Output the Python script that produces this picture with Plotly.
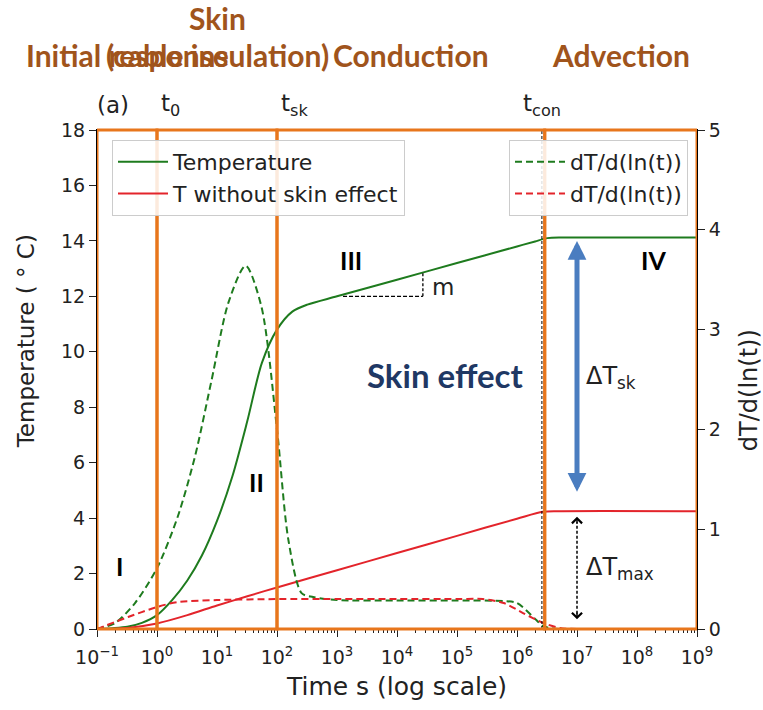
import math
import plotly.graph_objects as go

# ---- data -------------------------------------------------------------
# Temperature rise (left axis, deg C)
t_temp = [0.1, 0.18, 0.32, 0.56, 1, 1.8, 3.2, 5.6, 10, 18, 32, 56, 100, 180, 320,
          1e3, 1e4, 1e5, 1e6, 2e6, 3.2e6, 6e6, 1e9]
temp = [0.0, 0.03, 0.08, 0.22, 0.5, 1.05, 1.75, 2.65, 3.9, 5.5, 7.5, 9.6, 10.8, 11.45, 11.7,
        12.0, 12.6, 13.2, 13.8, 13.98, 14.1, 14.12, 14.12]

t_noskin = [0.1, 0.32, 1, 3.2, 10, 32, 100, 1e3, 1e4, 1e5, 1e6, 2.7e6, 5e6, 1e9]
temp_noskin = [0.0, 0.04, 0.2, 0.5, 0.85, 1.18, 1.5, 2.12, 2.74, 3.36, 3.98, 4.23, 4.25, 4.25]

# Log-derivative dT/d(ln t) (right axis)
t_dtemp = [0.1, 0.2, 0.43, 1, 2.2, 4.3, 8.1, 15.5, 30, 55, 100, 155, 257, 400,
           1e3, 1e4, 1e5, 6e5, 1e6, 2.1e6, 2.7e6, 5e6, 1e9]
dtemp = [0.0, 0.06, 0.26, 0.61, 1.12, 1.73, 2.49, 3.27, 3.64, 3.23, 2.0, 0.89, 0.36, 0.32,
         0.29, 0.285, 0.285, 0.28, 0.26, 0.09, 0.03, 0.0, 0.0]

t_dnoskin = [0.1, 0.33, 1, 2.2, 10, 100, 1e3, 1e4, 1e5, 2.7e5, 6e5, 1.26e6, 2.75e6, 5.2e6, 1e7, 1e9]
dnoskin = [0.0, 0.12, 0.22, 0.27, 0.29, 0.3, 0.3, 0.3, 0.3, 0.3, 0.26, 0.16, 0.06, 0.01, 0.0, 0.0]

# characteristic times and stage boundaries
t0, t_sk, t_con = 1, 100, 2.6e6
stage_edges = [0.1, 1, 100, 2.9e6, 1e9]
stage_names = ["Initial response", "(cable insulation)", "Conduction", "Advection"]

# slope marker in stage III and the two temperature gaps
slope_t = [1.26e3, 2.7e4]
slope_T = [12.0, 12.85]
gap_t = 1e7
dT_sk = [4.9, 14.0]
dT_max = [0.35, 4.05]

x_tickvals = [10.0 ** p for p in range(-1, 10)]
x_ticktext = ["10<sup>" + ("\u2212" + str(-p) if p < 0 else str(p)) + "</sup>" for p in range(-1, 10)]

# ---- styling ----------------------------------------------------------
GREEN = "#1E7B1E"
RED = "#E3242B"
ORANGE = "#E8761C"
BROWN = "#A0541C"
NAVY = "#1F3864"
BLUE = "#4A7DC0"
INK = "#222222"
MPL = "DejaVu Sans"

fig = go.Figure()
fig.add_trace(go.Scatter(x=t_temp, y=temp, mode="lines", name="Temperature",
                         line=dict(color=GREEN, width=2, shape="spline", smoothing=0.8),
                         legend="legend"))
fig.add_trace(go.Scatter(x=t_noskin, y=temp_noskin, mode="lines", name="T without skin effect",
                         line=dict(color=RED, width=2, shape="spline", smoothing=0.8),
                         legend="legend"))
fig.add_trace(go.Scatter(x=t_dtemp, y=dtemp, mode="lines", name="dT/d(ln(t))", yaxis="y2",
                         line=dict(color=GREEN, width=2, dash="7px,4px", shape="spline", smoothing=0.8),
                         legend="legend2"))
fig.add_trace(go.Scatter(x=t_dnoskin, y=dnoskin, mode="lines", name="dT/d(ln(t))", yaxis="y2",
                         line=dict(color=RED, width=2, dash="7px,4px", shape="spline", smoothing=0.8),
                         legend="legend2"))

shapes = []
# t_con marker
shapes.append(dict(type="line", xref="x", yref="paper", x0=t_con, x1=t_con, y0=0, y1=1,
                   line=dict(color="black", width=1, dash="3px,2px"), layer="above"))
# slope triangle
shapes.append(dict(type="line", xref="x", yref="y", x0=slope_t[0], x1=slope_t[1],
                   y0=slope_T[0], y1=slope_T[0], line=dict(color="black", width=1.3, dash="4px,2px")))
shapes.append(dict(type="line", xref="x", yref="y", x0=slope_t[1], x1=slope_t[1],
                   y0=slope_T[0], y1=slope_T[1], line=dict(color="black", width=1.3, dash="3px,2px")))
# dashed shaft of the maximum-gap arrow
shapes.append(dict(type="line", xref="x", yref="y", x0=gap_t, x1=gap_t,
                   y0=dT_max[0] + 0.2, y1=dT_max[1] - 0.2, line=dict(color="black", width=1.5, dash="3px,2px")))
# stage boxes
for a, b in zip(stage_edges[:-1], stage_edges[1:]):
    shapes.append(dict(type="rect", xref="x", yref="paper", x0=a, x1=b, y0=0, y1=1,
                       line=dict(color=ORANGE, width=3), layer="above"))

ann = []
# stage headings
centers = [math.log10(stage_edges[i] * stage_edges[i + 1]) / 2 for i in range(4)]
head_font = dict(family="Lato", size=30, color=BROWN)
for name, c in zip(stage_names, centers):
    ann.append(dict(x=c, y=1.15, xref="x", yref="paper", text="<b>%s</b>" % name,
                    showarrow=False, font=head_font, xanchor="center", yanchor="middle"))
ann.append(dict(x=centers[1], y=1.225, xref="x", yref="paper", text="<b>Skin</b>",
                showarrow=False, font=head_font, xanchor="center", yanchor="middle"))

# panel tag and characteristic time labels
tfont = dict(family=MPL, size=23, color=INK)
ann.append(dict(x=-1, y=1.05, xref="x", yref="paper", text="(a)", showarrow=False, font=tfont,
                xanchor="left", yanchor="middle", xshift=-2))
ann.append(dict(x=math.log10(t0), y=1.05, xref="x", yref="paper", text="t<sub>0</sub>", showarrow=False,
                font=tfont, xanchor="left", yanchor="middle", xshift=2))
ann.append(dict(x=math.log10(t_sk), y=1.05, xref="x", yref="paper", text="t<sub>sk</sub>", showarrow=False,
                font=tfont, xanchor="left", yanchor="middle", xshift=2))
ann.append(dict(x=math.log10(t_con), y=1.05, xref="x", yref="paper", text="t<sub>con</sub>",
                showarrow=False, font=tfont, xanchor="center", yanchor="middle"))

# axis titles for the two temperature scales
ann.append(dict(x=-0.118, y=0.577, xref="paper", yref="paper", text="Temperature ( \u00b0 C)",
                textangle=-90, showarrow=False, font=dict(family=MPL, size=23, color=INK),
                xanchor="center", yanchor="middle"))
ann.append(dict(x=1.087, y=0.479, xref="paper", yref="paper", text="dT/d(ln(t))",
                textangle=-90, showarrow=False, font=dict(family=MPL, size=24, color=INK),
                xanchor="center", yanchor="middle"))

# stage numerals
rfont = dict(family="Lato", size=25, color="black")
for txt, lx, ty in [("I", -0.62, 2.27), ("II", 1.66, 5.31), ("III", 3.23, 13.3), ("IV", 8.27, 13.3)]:
    ann.append(dict(x=lx, y=ty, xref="x", yref="y", text="<b>%s</b>" % txt, showarrow=False, font=rfont))

ann.append(dict(x=4.77, y=12.35, xref="x", yref="y", text="m", showarrow=False,
                font=dict(family=MPL, size=23, color=INK)))
ann.append(dict(x=4.8, y=9.16, xref="x", yref="y", text="<b>Skin effect</b>", showarrow=False,
                font=dict(family="Lato", size=33, color=NAVY)))

lg = math.log10(gap_t)
# skin-effect gap: thick blue double arrow
ann.append(dict(x=lg, y=dT_sk[1], ax=lg, ay=dT_sk[0], xref="x", yref="y", axref="x", ayref="y",
                text="", showarrow=True, arrowhead=2, arrowside="end+start", arrowwidth=5,
                arrowsize=0.75, arrowcolor=BLUE))
ann.append(dict(x=lg, y=9.09, xref="x", yref="y", text="\u0394T<sub>sk</sub>", showarrow=False,
                font=dict(family=MPL, size=24, color=INK), xanchor="left", xshift=7))
# maximum gap: arrowheads on the dashed shaft
for tip, tail in [(dT_max[1], dT_max[1] - 0.3), (dT_max[0], dT_max[0] + 0.3)]:
    ann.append(dict(x=lg, y=tip, ax=lg, ay=tail, xref="x", yref="y", axref="x", ayref="y",
                    text="", showarrow=True, arrowhead=4, arrowwidth=1.5, arrowsize=1.3,
                    arrowcolor="black"))
ann.append(dict(x=lg, y=2.2, xref="x", yref="y", text="\u0394T<sub>max</sub>", showarrow=False,
                font=dict(family=MPL, size=24, color=INK), xanchor="left", xshift=7))

tickfont = dict(family=MPL, size=19, color=INK)
legfont = dict(family=MPL, size=22, color=INK)

fig.update_layout(
    width=763, height=710,
    margin=dict(l=97, r=66, t=130, b=81),
    paper_bgcolor="white", plot_bgcolor="white",
    shapes=shapes, annotations=ann,
    xaxis=dict(type="log", range=[-1, 9], tickmode="array", tickvals=x_tickvals, ticktext=x_ticktext,
               ticks="outside", ticklen=7, tickcolor=INK, tickfont=tickfont, ticklabelstandoff=4,
               showline=True, linecolor="black", linewidth=1, mirror=True, showgrid=False, zeroline=False,
               minor=dict(ticks="outside", ticklen=3, tickcolor=INK, dtick="D1", showgrid=False),
               title=dict(text="Time s (log scale)", font=dict(family=MPL, size=25, color=INK), standoff=10)),
    yaxis=dict(range=[0, 18], dtick=2, ticks="outside", ticklen=7, tickcolor=INK, tickfont=tickfont,
               showline=True, linecolor="black", linewidth=1, mirror=True, showgrid=False, zeroline=False),
    yaxis2=dict(range=[0, 5], dtick=1, overlaying="y", side="right", ticks="outside", ticklen=7,
                tickcolor=INK, tickfont=tickfont, showgrid=False, zeroline=False, showline=False),
    legend=dict(x=0.025, y=0.98, xanchor="left", yanchor="top", font=legfont, itemwidth=50,
                bgcolor="rgba(255,255,255,0.85)", bordercolor="#cccccc", borderwidth=1),
    legend2=dict(x=0.985, y=0.98, xanchor="right", yanchor="top", font=legfont, itemwidth=50,
                 bgcolor="rgba(255,255,255,0.85)", bordercolor="#cccccc", borderwidth=1),
)

fig.write_html("out.html")
